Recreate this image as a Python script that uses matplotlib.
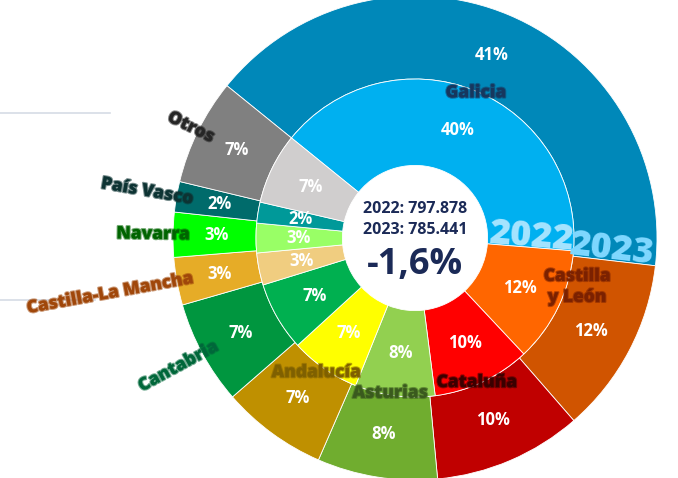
import matplotlib
matplotlib.use("Agg")
import matplotlib.pyplot as plt
import matplotlib.patheffects as pe
from matplotlib.lines import Line2D
import numpy as np

plt.rcParams['font.family'] = ['Open Sans', 'DejaVu Sans']

# datos (clockwise from Galicia)
regiones = ["Galicia", "Castilla\ny León", "Cataluña", "Asturias", "Andalucía",
            "Cantabria", "Castilla-La Mancha", "Navarra", "País Vasco", "Otros"]
valores_2022 = [322800, 93500, 79500, 64800, 56800, 56000, 26000, 24000, 17000, 57478]
valores_2023 = [322000, 92500, 77800, 63000, 55500, 54500, 25000, 23500, 16000, 55641]
total_2022 = 797878
total_2023 = 785441
variacion = "-1,6%"

colores_2023 = ["#0088B9", "#D05400", "#C00000", "#70AD2F", "#BF9000",
                "#00963F", "#E6AC27", "#00FF00", "#006B6B", "#808080"]
colores_2022 = ["#00B0F0", "#FF6600", "#FF0000", "#92D050", "#FFFF00",
                "#00B050", "#F0CD80", "#99FF66", "#009999", "#D0CECE"]
colores_nombre = ["#17375E", "#7B2100", "#3B0000", "#3A5A1E", "#7F6000",
                  "#00673A", "#A0470A", "#006400", "#0D3333", "#262626"]
# which names go outside on the left
fuera = ["Cantabria", "Castilla-La Mancha", "Navarra", "País Vasco", "Otros"]

fig = plt.figure(figsize=(6.78, 4.78), dpi=100)
ax = fig.add_axes([0, 0, 1, 1])

R = 1.0
r_in = 0.657
hole = 0.30

w23, _ = ax.pie(valores_2023, radius=R, colors=colores_2023, startangle=141,
                counterclock=False,
                wedgeprops=dict(width=R - r_in, edgecolor="white", linewidth=0.6))
w22, _ = ax.pie(valores_2022, radius=r_in, colors=colores_2022, startangle=141,
                counterclock=False,
                wedgeprops=dict(width=r_in - hole, edgecolor="white", linewidth=0.6))

ax.set_xlim(-415 / 242, (678 - 415) / 242)
ax.set_ylim((238 - 478) / 242, 238 / 242)
ax.set_aspect("equal")
ax.axis("off")


def pol(r, ang):
    a = np.deg2rad(ang)
    return r * np.cos(a), r * np.sin(a)


# porcentajes
for w, v in zip(w23, valores_2023):
    mid = (w.theta1 + w.theta2) / 2
    x, y = pol(0.82, mid)
    ax.text(x, y, f"{round(v / total_2023 * 100)}%", color="white",
            fontsize=12, fontweight="bold", ha="center", va="center")
for w, v in zip(w22, valores_2022):
    mid = (w.theta1 + w.theta2) / 2
    x, y = pol(0.48, mid)
    ax.text(x, y, f"{round(v / total_2022 * 100)}%", color="white",
            fontsize=12, fontweight="bold", ha="center", va="center")

# nombres de regiones
for w, nombre, col in zip(w23, regiones, colores_nombre):
    mid = (w.theta1 + w.theta2) / 2
    glow = [pe.withStroke(linewidth=1.6, foreground=col, alpha=0.55)]
    if nombre in fuera:
        x, y = pol(0.93, mid)
        ax.text(x, y, nombre, color=col, fontsize=12.5, fontweight="heavy",
                ha="right", va="center", rotation=mid - 180 if mid > 0 else mid + 180,
                rotation_mode="anchor", path_effects=glow)
    else:
        r, off = 0.65, 0
        if nombre.startswith("Castilla"):
            r, off = 0.70, 11
        if nombre == "Andalucía":
            r = 0.69
        x, y = pol(r, mid + off)
        ax.text(x, y, nombre, color=col, fontsize=12.5, fontweight="heavy",
                ha="center", va="center", linespacing=1.3, path_effects=glow)

# etiquetas de año sobre el borde Galicia / Castilla y León
a22 = w22[0].theta1
a23 = w23[0].theta1
x, y = pol(r_in - 0.005, a22)
ax.text(x, y + 0.005, "2022", color="#A6E4FF", fontsize=26, fontweight="heavy",
        ha="right", va="baseline", rotation=a22, rotation_mode="anchor")
x, y = pol(R - 0.012, a23)
ax.text(x, y + 0.005, "2023", color="#80D8FF", fontsize=26, fontweight="heavy",
        ha="right", va="baseline", rotation=a23, rotation_mode="anchor")

# centro
navy = "#1B2A57"
ax.text(0, 0.12, f"2022: {total_2022:,}".replace(",", "."), color=navy,
        fontsize=11.5, fontweight="bold", ha="center", va="center")
ax.text(0, 0.035, f"2023: {total_2023:,}".replace(",", "."), color=navy,
        fontsize=11.5, fontweight="bold", ha="center", va="center")
ax.text(0, -0.11, variacion, color=navy, fontsize=26, fontweight="bold",
        ha="center", va="center")

# líneas grises a la izquierda
fig.add_artist(Line2D([0, 110 / 678], [1 - 113 / 478] * 2, color="#D6DCE5",
                      lw=1.2, transform=fig.transFigure))
fig.add_artist(Line2D([0, 95 / 678], [1 - 300 / 478] * 2, color="#D6DCE5",
                      lw=1.2, transform=fig.transFigure, zorder=0))

fig.savefig("out.png", dpi=100)
